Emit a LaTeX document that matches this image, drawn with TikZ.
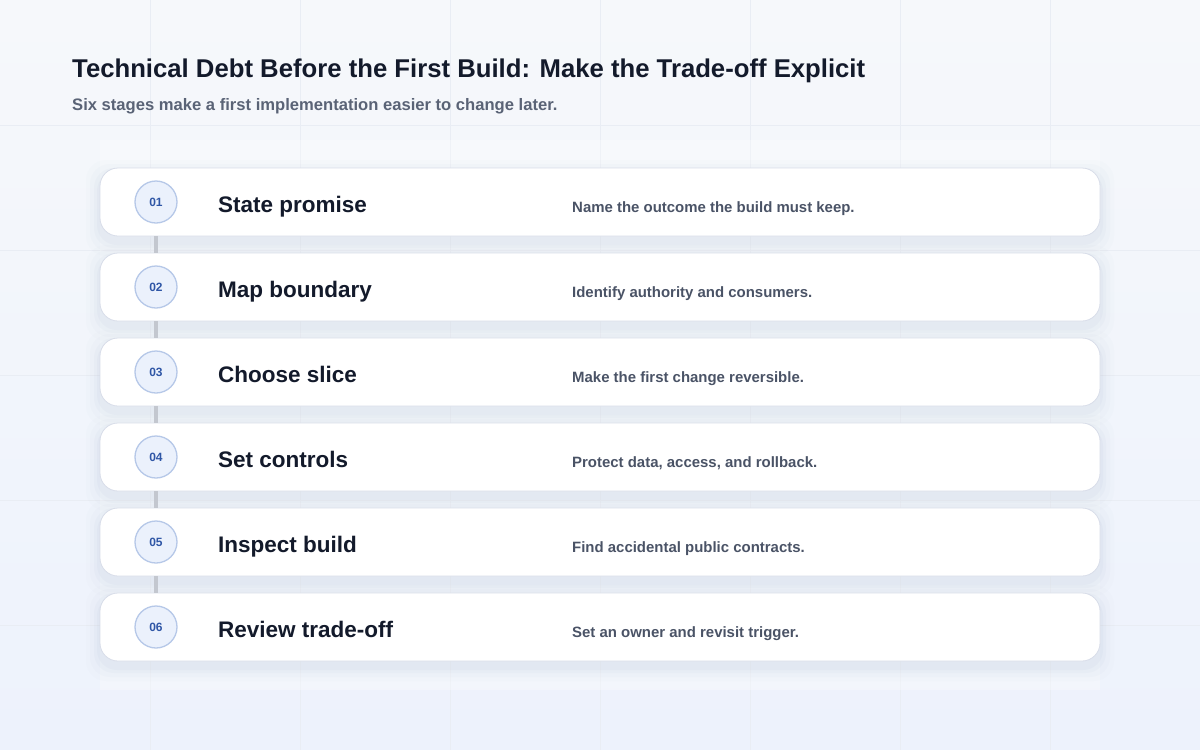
\documentclass[tikz,border=0pt]{standalone}
\usepackage{fontspec}
\setmainfont{Liberation Sans}
\usetikzlibrary{positioning}
\definecolor{bgtop}{HTML}{F6F8FB}
\definecolor{bgbot}{HTML}{EDF2FC}
\definecolor{gridc}{HTML}{E9EDF4}
\definecolor{cardline}{HTML}{D8DDE9}
\definecolor{shadowc}{HTML}{9AA6C4}
\definecolor{badgefill}{HTML}{EBF1FC}
\definecolor{badgeline}{HTML}{B6C8E8}
\definecolor{badgetext}{HTML}{2F56A6}
\definecolor{titlec}{HTML}{131A2B}
\definecolor{subc}{HTML}{5A6376}
\definecolor{descc}{HTML}{4A5366}
\definecolor{linkc}{HTML}{C3C7CF}
\tikzset{
  card/.style={draw=cardline, line width=0.8pt, fill=white, rounded corners=18pt,
    minimum width=1000pt, minimum height=68pt, inner sep=0pt},
  badge/.style={circle, draw=badgeline, line width=1.3pt, fill=badgefill,
    minimum size=42pt, inner sep=0pt, text=badgetext,
    font=\fontsize{12}{14}\selectfont\bfseries},
  stagename/.style={anchor=base west, text=titlec, inner sep=0pt,
    font=\fontsize{22.5}{26}\selectfont\bfseries},
  stagedesc/.style={anchor=base west, text=descc, inner sep=0pt,
    font=\fontsize{14.95}{18}\selectfont\bfseries},
  link/.style={draw=linkc, line width=4pt}
}
\begin{document}
\begin{tikzpicture}[x=1pt, y=-1pt]
  % background
  \shade[top color=bgtop, bottom color=bgbot] (0,0) rectangle (1200,750);
  \useasboundingbox (0,0) rectangle (1200,750);
  \foreach \gx in {150,300,...,1050}
    \draw[gridc, line width=0.5pt] (\gx,0) -- (\gx,750);
  \foreach \gy in {125,250,...,625}
    \draw[gridc, line width=0.5pt] (0,\gy) -- (1200,\gy);
  \fill[white, opacity=0.3] (100,140) rectangle (1100,690);

  % heading
  \node[anchor=base west, inner sep=0pt, text=titlec,
    font=\fontsize{25.7}{30}\selectfont\bfseries] (title) at (72,77)
    {Technical Debt Before the First Build: Make the Trade-off Explicit};
  \node[anchor=base west, inner sep=0pt, text=subc,
    font=\fontsize{16.6}{19}\selectfont\bfseries] (subtitle) at (72,110)
    {Six stages make a first implementation easier to change later.};

  % stages
  \foreach \i/\name/\desc in {
      1/State promise/Name the outcome the build must keep.,
      2/Map boundary/Identify authority and consumers.,
      3/Choose slice/Make the first change reversible.,
      4/Set controls/{Protect data, access, and rollback.},
      5/Inspect build/Find accidental public contracts.,
      6/Review trade-off/Set an owner and revisit trigger.} {
    \pgfmathsetmacro{\cy}{202+85*(\i-1)}
    % soft shadow
    \foreach \s/\o in {14/0.025,10/0.035,6/0.05,3/0.06}
      \fill[shadowc, opacity=\o, rounded corners=20pt]
        (100-\s,\cy-34-\s+6) rectangle (1100+\s,\cy+34+\s+6);
    \node[card] (card\i) at (600,\cy) {};
    \node[badge] (badge\i) at (156,\cy) {0\i};
    \node[stagename] (name\i) at (218,\cy+10.5) {\name};
    \node[stagedesc] (desc\i) at (572,\cy+10) {\desc};
  }

  % links between badges
  \foreach \i/\j in {1/2,2/3,3/4,4/5,5/6}
    \draw[link] (card\i.south -| badge\i) -- (card\j.north -| badge\j);
\end{tikzpicture}
\end{document}
